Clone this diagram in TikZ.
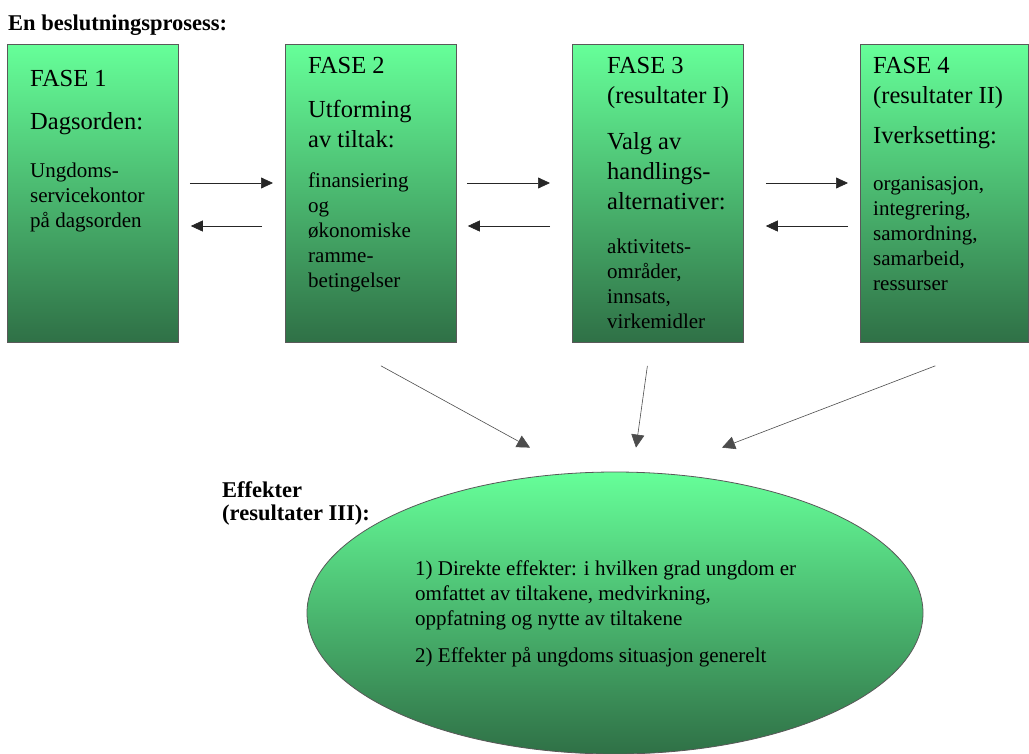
\documentclass[tikz,border=0pt]{standalone}
\usepackage{fontspec}
\setmainfont{Liberation Serif}
\usepackage{xcolor}
\usepackage{tikz}
\usetikzlibrary{shapes.geometric, arrows.meta, positioning, calc}
\definecolor{faselys}{RGB}{102,255,153}
\definecolor{fasemork}{RGB}{47,112,70}
\tikzset{
  fase/.style={rectangle,draw=black!65,line width=0.8pt,top color=faselys,bottom color=fasemork,
    minimum width=171pt,minimum height=298pt,inner sep=0pt,anchor=north west},
  fasehode/.style={align=left,inner sep=0pt,font=\fontsize{24.5}{30}\selectfont},
  fasetekst/.style={align=left,inner sep=0pt,font=\fontsize{21}{25}\selectfont},
  effektfelt/.style={ellipse,draw=black!65,line width=0.8pt,top color=faselys,bottom color=fasemork,
    minimum width=616pt,minimum height=282pt,inner sep=0pt},
  tittel/.style={inner sep=0pt,font=\bfseries\fontsize{22.5}{23.5}\selectfont},
  arrow/.style={-{Triangle[length=12pt,width=11pt]},line width=0.7pt,draw=black!85},
  skraarrow/.style={-{Triangle[length=13pt,width=13pt]},line width=0.6pt,draw=black!70}
}
\begin{document}
\begin{tikzpicture}[x=1pt,y=-1pt]
  \useasboundingbox (0,0) rectangle (1029,753);
  \node[tittel, anchor=base west] (tittel) at (8,30) {En beslutningsprosess:};

  \node[fase] (fase1) at (7,44) {};
  \node[fase] (fase2) at (285,44) {};
  \node[fase] (fase3) at (572,44) {};
  \node[fase, minimum width=168pt] (fase4) at (860,44) {};

  \node[fasehode, below right=26pt and 23pt of fase1.north west] (hode1)
    {FASE 1\\[13pt]Dagsorden:};
  \node[fasetekst, below right=119pt and 23pt of fase1.north west] (tekst1)
    {Ungdoms-\\servicekontor\\på dagsorden};
  \node[fasehode, below right=13pt and 23pt of fase2.north west] (hode2)
    {FASE 2\\[14pt]Utforming\\av tiltak:};
  \node[fasetekst, below right=129pt and 23pt of fase2.north west] (tekst2)
    {finansiering\\og\\økonomiske\\ramme-\\betingelser};
  \node[fasehode, below right=13pt and 35pt of fase3.north west] (hode3)
    {FASE 3\\(resultater I)\\[16pt]Valg av\\handlings-\\alternativer:};
  \node[fasetekst, below right=195pt and 35pt of fase3.north west] (tekst3)
    {aktivitets-\\områder,\\innsats,\\virkemidler};
  \node[fasehode, below right=13pt and 13pt of fase4.north west] (hode4)
    {FASE 4\\(resultater II)\\[10pt]Iverksetting:};
  \node[fasetekst, below right=132pt and 13pt of fase4.north west] (tekst4)
    {organisasjon,\\integrering,\\samordning,\\samarbeid,\\ressurser};

  \node[effektfelt] (effekt) at (615,613) {};
  \node[tittel, align=left, anchor=north west] (effektnavn) at (222,481)
    {Effekter\\(resultater III):};
  \node[fasetekst, anchor=north west] (effekttekst) at (415,561)
    {1) Direkte effekter: i hvilken grad ungdom er\\omfattet av tiltakene, medvirkning,\\oppfatning og nytte av tiltakene\\[12pt]2) Effekter på ungdoms situasjon generelt};

  \draw[arrow] ([shift={(11,139)}]fase1.north east) -- ([shift={(-12,139)}]fase2.north west);
  \draw[arrow] ([shift={(-23,182)}]fase2.north west) -- ([shift={(12,182)}]fase1.north east);
  \draw[arrow] ([shift={(10,139)}]fase2.north east) -- ([shift={(-22,139)}]fase3.north west);
  \draw[arrow] ([shift={(-22,182)}]fase3.north west) -- ([shift={(11,182)}]fase2.north east);
  \draw[arrow] ([shift={(22,139)}]fase3.north east) -- ([shift={(-12,139)}]fase4.north west);
  \draw[arrow] ([shift={(-12,182)}]fase4.north west) -- ([shift={(22,182)}]fase3.north east);

  \draw[skraarrow] ([shift={(10,23)}]fase2.south) -- ([shift={(-85,-24)}]effekt.north);
  \draw[skraarrow] ([shift={(-10.5,23)}]fase3.south) -- ([shift={(21,-24)}]effekt.north);
  \draw[skraarrow] ([shift={(-9,23)}]fase4.south) -- ([shift={(107,-24)}]effekt.north);
\end{tikzpicture}
\end{document}
